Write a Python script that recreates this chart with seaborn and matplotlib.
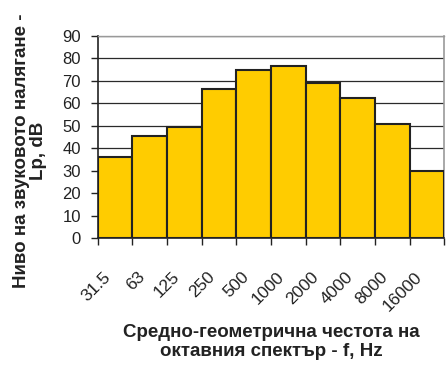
import matplotlib
matplotlib.use("Agg")
import matplotlib.pyplot as plt
import matplotlib.transforms as mtransforms
import seaborn as sns
import pandas as pd

# Octave-band centre frequencies and sound pressure levels
frequencies = ["31.5", "63", "125", "250", "500", "1000", "2000", "4000", "8000", "16000"]
levels = [36.3, 45.5, 49.3, 66.4, 74.9, 76.4, 69.2, 62.4, 50.7, 29.9]
y_ticks = [0, 10, 20, 30, 40, 50, 60, 70, 80, 90]

y_title = "Ниво на звуковото налягане -\nLp, dB"
x_title = "Средно-геометрична честота на\nоктавния спектър - f, Hz"

sns.set_theme(style="white")
plt.rcParams["font.family"] = ["Liberation Sans", "DejaVu Sans"]

df = pd.DataFrame({"freq": frequencies, "level": levels})

fig = plt.figure(figsize=(4.46, 3.66), dpi=100)
ax = fig.add_axes([97.7 / 446, 1 - 238.3 / 366, (444.3 - 97.7) / 446, (238.3 - 35.7) / 366])

sns.barplot(data=df, x="freq", y="level", ax=ax, color="#FFCC00", width=1.0,
            edgecolor="#222222", linewidth=1.5, saturation=1, zorder=3)

ax.set_ylim(0, 90)
ax.set_xlim(-0.5, len(frequencies) - 0.5)
ax.set_yticks(y_ticks)
ax.set_yticklabels([str(v) for v in y_ticks], fontsize=12, color="#222222")

# gridlines
for v in y_ticks[1:]:
    ax.axhline(v, color="#2a2a2a", lw=0.9, zorder=1)

# tick marks sit on bar boundaries; category labels are drawn under bar centres
ax.set_xticks([i - 0.5 for i in range(len(frequencies) + 1)])
ax.set_xticklabels([])
ax.tick_params(axis="x", which="major", length=5, width=1, color="#222222", direction="out", bottom=True)
ax.tick_params(axis="y", which="major", length=5, width=1, color="#222222", direction="out", left=True, pad=7)

label_tf = mtransforms.blended_transform_factory(ax.transData, ax.transAxes) + \
    mtransforms.ScaledTranslation(-5 / 72, -26 / 72, fig.dpi_scale_trans)
for i, f in enumerate(frequencies):
    ax.text(i, 0, f, transform=label_tf, rotation=45, rotation_mode="anchor",
            ha="right", va="center", fontsize=12.5, color="#222222")

for side in ["left", "bottom"]:
    ax.spines[side].set_color("#222222")
    ax.spines[side].set_linewidth(1.2)
ax.spines["right"].set_color("#999999")
ax.spines["right"].set_linewidth(1.2)
ax.spines["top"].set_color("#999999")
ax.spines["top"].set_linewidth(1.0)

ax.set_xlabel("")
ax.set_ylabel("")
fig.text(30 / 446, 1 - 151 / 366, y_title, rotation=90, ha="center", va="center",
         fontsize=13.5, fontweight="bold", color="#222222", linespacing=1.05)
fig.text(271 / 446, 1 - 342 / 366, x_title, ha="center", va="center",
         fontsize=13.5, fontweight="bold", color="#222222", linespacing=1.2)

fig.savefig("out.png", dpi=100)
